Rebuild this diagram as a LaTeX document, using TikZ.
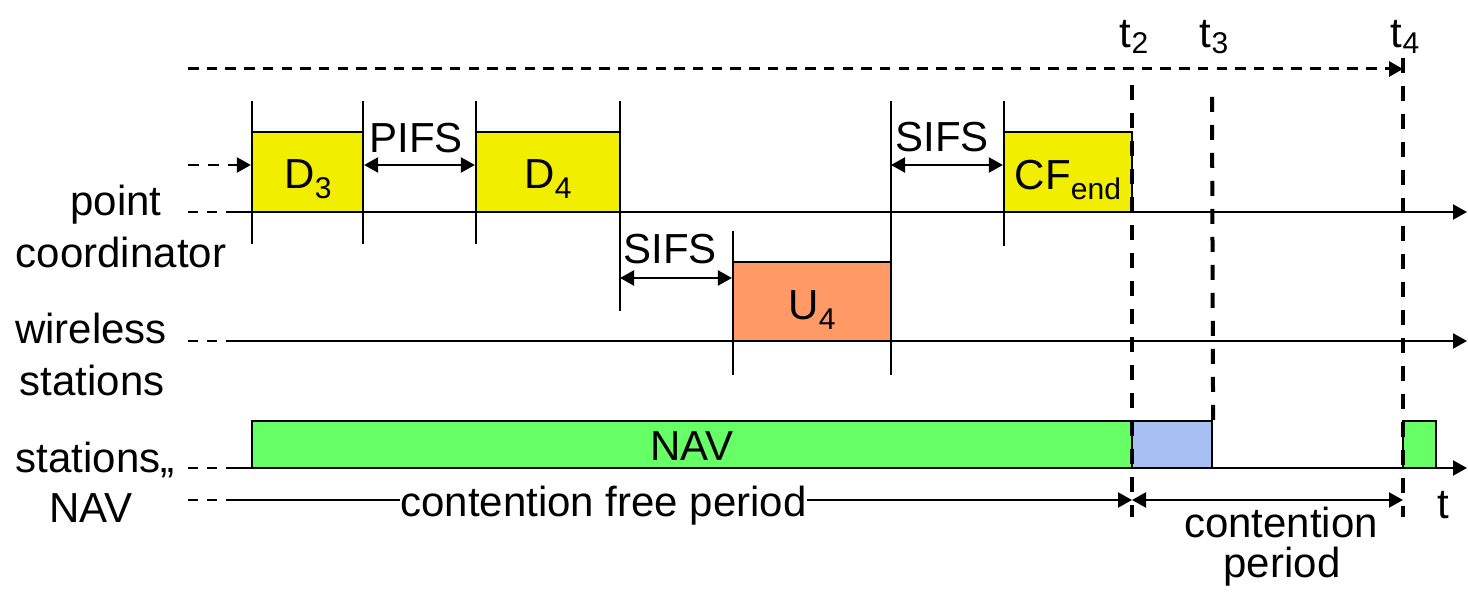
\documentclass[tikz,border=0pt]{standalone}
\usepackage{fontspec}
\setmainfont{Liberation Sans}
\usetikzlibrary{arrows.meta,fit}
\definecolor{boxyellow}{HTML}{F2EE00}
\definecolor{boxorange}{HTML}{FF9966}
\definecolor{boxgreen}{HTML}{66FF66}
\definecolor{boxblue}{HTML}{A6C0F4}
\newcommand\sbs[2][5pt]{\raisebox{-#1}{\fontsize{15}{15}\selectfont #2}}
\begin{document}
\begin{tikzpicture}[x=0.5pt,y=-0.5pt,
  every node/.style={font=\fontsize{21}{25}\selectfont, inner sep=0pt},
  tip/.style={-{Triangle[length=7pt,width=7.5pt]}},
  axisline/.style={line width=1.1pt,tip},
  preline/.style={line width=1.1pt,dash pattern=on 5pt off 4.5pt},
  tickline/.style={line width=1.1pt},
  frame/.style={draw,line width=1.1pt,inner sep=0pt},
  ybox/.style={frame,fill=boxyellow},
  obox/.style={frame,fill=boxorange},
  gbox/.style={frame,fill=boxgreen},
  bbox/.style={frame,fill=boxblue},
  dimline/.style={line width=1.1pt,{Triangle[length=7pt,width=7.5pt]}-{Triangle[length=7pt,width=7.5pt]}},
  tline/.style={line width=2pt,dash pattern=on 7.5pt off 6.5pt},
  topline/.style={line width=1.5pt,dash pattern=on 5.25pt off 4.1pt,tip},
  inline/.style={line width=1.1pt,dash pattern=on 5.5pt off 4.5pt,tip},
  lbl/.style={anchor=base}]
\useasboundingbox (0,0) rectangle (1468,597);

% ---- boxes
\node[ybox, fit={(252,132)(363,212)}] (D3) {};
\node[ybox, fit={(476,132)(620,212)}] (D4) {};
\node[obox, fit={(733,262)(891,341)}] (U4) {};
\node[ybox, fit={(1004,132)(1132,212)}] (CF) {};
\node[gbox, fit={(252,421)(1132,468)}] (NAVbox) {};
\node[bbox, fit={(1132,421)(1212,468)}] (Blue) {};
\node[gbox, fit={(1403,421)(1436,468)}] (NAV2) {};

\node[lbl] (tD3) at (308,189) {D\sbs{3}};
\node[lbl] (tD4) at (548,189) {D\sbs{4}};
\node[lbl] (tU4) at (812,320) {U\sbs{4}};
\node[lbl] (tCF) at (1068,190) {CF\sbs{end}};
\node[lbl] (tNAV) at (692,461) {NAV};

% ---- coordinates
\coordinate (tkA1) at (252,101); \coordinate (tkA2) at (252,244);
\coordinate (tkB1) at (363,101); \coordinate (tkB2) at (363,244);
\coordinate (tkC1) at (476,101); \coordinate (tkC2) at (476,244);
\coordinate (tkD1) at (620,101); \coordinate (tkD2) at (620,311);
\coordinate (tkE1) at (733,231); \coordinate (tkE2) at (733,375);
\coordinate (tkF1) at (891,101); \coordinate (tkF2) at (891,375);
\coordinate (tkG1) at (1004,101); \coordinate (tkG2) at (1004,246);

\coordinate (pcS) at (188,212); \coordinate (pcM) at (227,212); \coordinate (pcE) at (1467,212);
\coordinate (wsS) at (188,341); \coordinate (wsM) at (227,341); \coordinate (wsE) at (1467,341);
\coordinate (nvS) at (188,468); \coordinate (nvM) at (227,468); \coordinate (nvE) at (1467,468);
\coordinate (cpS) at (188,500); \coordinate (cpM) at (227,500); \coordinate (cpE) at (1132,500);
\coordinate (cpE2) at (1403,500);
\coordinate (inS) at (188,165);
\coordinate (topS) at (188,69); \coordinate (topE) at (1403,69);

\coordinate (t2a) at (1132,85); \coordinate (t2b) at (1132,517);
\coordinate (t3a) at (1212,97);
\coordinate (t4a) at (1403,58); \coordinate (t4b) at (1403,517);

% ---- ticks
\draw[tickline] (tkA1) -- (tkA2);
\draw[tickline] (tkB1) -- (tkB2);
\draw[tickline] (tkC1) -- (tkC2);
\draw[tickline] (tkD1) -- (tkD2);
\draw[tickline] (tkE1) -- (tkE2);
\draw[tickline] (tkF1) -- (tkF2);
\draw[tickline] (tkG1) -- (tkG2);

% ---- time axes
\draw[preline] (pcS) -- (pcM);
\draw[axisline] (pcM) -- (pcE);
\draw[preline] (wsS) -- (wsM);
\draw[axisline] (wsM) -- (wsE);
\draw[preline] (nvS) -- (nvM);
\draw[axisline] (nvM) -- (nvE);
\draw[preline] (cpS) -- (cpM);
\draw[axisline] (cpM) -- (cpE);
\node[lbl, fill=white] (cfp) at (603.5,517) {contention free period};
\draw[dimline] (cpE) -- (cpE2);

% ---- interval arrows
\draw[inline] (inS) -- (D3.west |- inS);
\draw[dimline] (D3.east |- inS) -- (D4.west |- inS);
\draw[dimline] (tkD1 |- 0,278) -- (U4.west |- 0,278);
\draw[dimline] (tkF1 |- 0,165) -- (CF.west |- 0,165);

% ---- top dashed arrow and time markers
\draw[topline] (topS) -- (topE);
\draw[tline] (t2a) -- (t2b);
\draw[tline] (t3a) -- (Blue.north east);
\draw[tline] (t4a) -- (t4b);

% ---- labels
\node[lbl] (lPIFS) at (416,153) {PIFS};
\node[lbl] (lSIFS1) at (670,264) {SIFS};
\node[lbl] (lSIFS2) at (942,152) {SIFS};
\node[lbl] (lt2) at (1134,48) {t\sbs[3pt]{2}};
\node[lbl] (lt3) at (1214,48) {t\sbs[3pt]{3}};
\node[lbl] (lt4) at (1405,48) {t\sbs[3pt]{4}};
\node[lbl] (lt) at (1443,519) {t};
\node[lbl] (lcp1) at (1281,538) {contention};
\node[lbl] (lcp2) at (1282,578) {period};

\node[lbl] (lpc1) at (116,216) {point};
\node[lbl] (lpc2) at (121,268) {coordinator};
\node[lbl] (lws1) at (91,344) {wireless};
\node[lbl] (lws2) at (92,396) {stations};
\node[lbl] (lnv1) at (95,473) {stations„};
\node[lbl] (lnv2) at (91,523) {NAV};
\end{tikzpicture}
\end{document}
